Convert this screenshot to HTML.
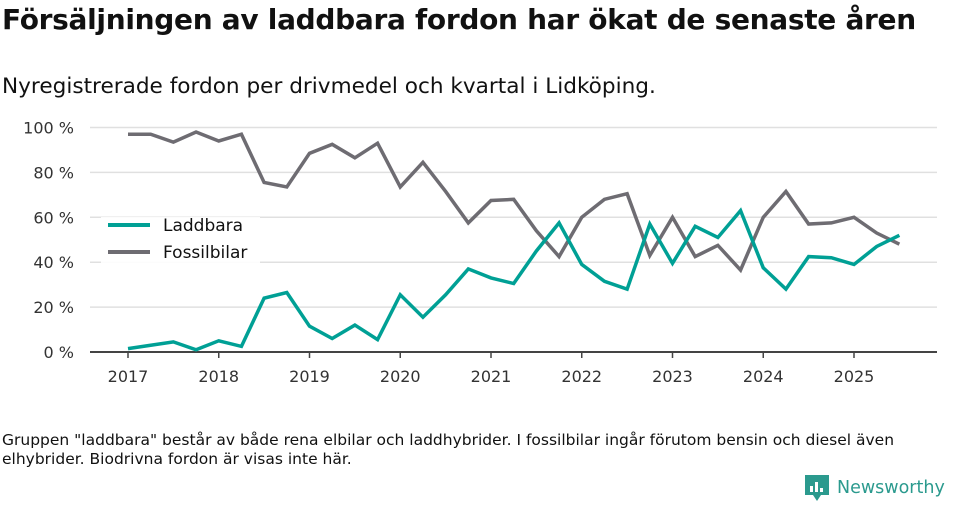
<!DOCTYPE html>
<html><head><meta charset="utf-8"><style>
body{margin:0;width:960px;height:505px;background:#fff;font-family:"DejaVu Sans","Liberation Sans",sans-serif;color:#111;overflow:hidden;position:relative}
h1{position:absolute;left:2px;top:3px;margin:0;font-size:28px;font-weight:bold;letter-spacing:-0.3px}
.sub{position:absolute;left:2px;top:74px;font-size:21.6px;margin:0}
.foot{position:absolute;left:2px;top:431px;font-size:15.5px;line-height:19px;width:910px}
.logo{position:absolute;left:805px;top:475px;display:flex;align-items:center;font-size:17.5px;color:#2b9a8e;font-weight:normal;white-space:nowrap}
</style></head><body>
<h1>Försäljningen av laddbara fordon har ökat de senaste åren</h1>
<p class="sub">Nyregistrerade fordon per drivmedel och kvartal i Lidköping.</p>
<svg id="chart" width="960" height="420" style="position:absolute;left:0;top:0"></svg>
<div class="foot">Gruppen "laddbara" består av både rena elbilar och laddhybrider. I fossilbilar ingår förutom bensin och diesel även elhybrider. Biodrivna fordon är visas inte här.</div>
<div class="logo"><svg width="24" height="26" viewBox="0 0 24 26"><path d="M0 0h24v20h-8l-4 6-4-6H0z" fill="#2b9a8e"/><rect x="5" y="11" width="3" height="6" fill="#fff"/><rect x="10" y="7" width="3" height="10" fill="#fff"/><rect x="15" y="13" width="3" height="4" fill="#fff"/></svg><span style="margin-left:8px">Newsworthy</span></div>
<script>
const years=[2017,2018,2019,2020,2021,2022,2023,2024,2025];
const yTicks=[0,20,40,60,80,100];
const laddbara=[1.5,3,4.5,1,5,2.5,24,26.5,11.5,6,12,5.5,25.5,15.5,25.5,37,33,30.5,45,57.5,39,31.5,28,57,39.5,56,51,63,37.5,28,42.5,42,39,47,52];
const fossil=[97,97,93.5,98,94,97,75.5,73.5,88.5,92.5,86.5,93,73.5,84.5,71.5,57.5,67.5,68,54,42.5,60,68,70.5,43,60,42.5,47.5,36.5,60,71.5,57,57.5,60,53,48];
const svg=document.getElementById('chart');const NS='http://www.w3.org/2000/svg';
const x=t=>128+(t-2017)*90.75;const y=v=>352-v*2.245;
function el(tag,a){const e=document.createElementNS(NS,tag);for(const k in a)e.setAttribute(k,a[k]);svg.appendChild(e);return e;}
yTicks.forEach(v=>{if(v>0){const g=el('line',{x1:90,x2:937,y1:y(v),y2:y(v),stroke:'#e0e0e0','stroke-width':1.5});

}
const t=el('text',{x:74,y:y(v)+6,'text-anchor':'end','font-size':16,fill:'#333','font-family':'DejaVu Sans, Liberation Sans, sans-serif'});t.textContent=v+' %';

});
const ax=el('line',{x1:90,x2:937,y1:352,y2:352,stroke:'#444','stroke-width':2});


years.forEach(yr=>{const tk=el('line',{x1:x(yr),x2:x(yr),y1:352,y2:358,stroke:'#444','stroke-width':1.5});


const t=el('text',{x:x(yr),y:382,'text-anchor':'middle','font-size':16,fill:'#333','font-family':'DejaVu Sans, Liberation Sans, sans-serif'});t.textContent=yr;

});
function line(d,c,n){const p=el('polyline',{points:d.map((v,i)=>x(2017+i/4)+','+y(v)).join(' '),fill:'none',stroke:c,'stroke-width':3.5,'stroke-linejoin':'miter'});

}
line(fossil,'#6e6c72','fossilbilar-line');line(laddbara,'#00a095','laddbara-line');
const bg=el('rect',{x:101,y:217,width:159,height:46,fill:'#fff',opacity:0.9});


[['Laddbara','#00a095',225],['Fossilbilar','#6e6c72',252]].forEach(([n,c,yy])=>{
const l=el('line',{x1:108,x2:150,y1:yy,y2:yy,stroke:c,'stroke-width':4});


const t=el('text',{x:163,y:yy+6,'font-size':17,fill:'#111','font-family':'DejaVu Sans, Liberation Sans, sans-serif'});t.textContent=n;

});
</script>
</body></html>
